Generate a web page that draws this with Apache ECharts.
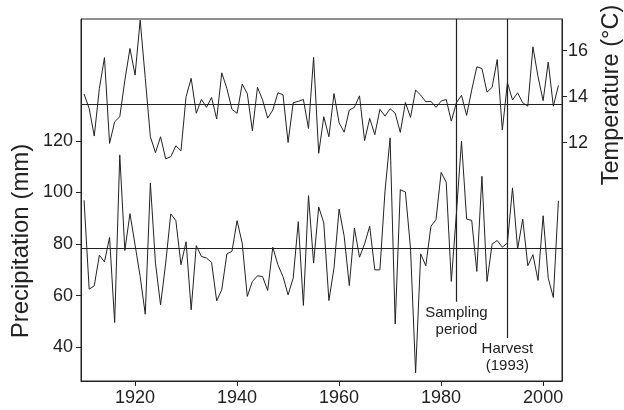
<!DOCTYPE html>
<html>
<head>
<meta charset="utf-8">
<script src="https://cdn.jsdelivr.net/npm/echarts@6/dist/echarts.min.js"></script>
<style>
  html, body { margin: 0; padding: 0; background: #fff; }
  #chart { width: 624px; height: 410px; }
</style>
</head>
<body>
<div id="chart"></div>
<script>
// Annual series, 1910–2003
const years = [
  1910, 1911, 1912, 1913, 1914, 1915, 1916, 1917, 1918, 1919,
  1920, 1921, 1922, 1923, 1924, 1925, 1926, 1927, 1928, 1929,
  1930, 1931, 1932, 1933, 1934, 1935, 1936, 1937, 1938, 1939,
  1940, 1941, 1942, 1943, 1944, 1945, 1946, 1947, 1948, 1949,
  1950, 1951, 1952, 1953, 1954, 1955, 1956, 1957, 1958, 1959,
  1960, 1961, 1962, 1963, 1964, 1965, 1966, 1967, 1968, 1969,
  1970, 1971, 1972, 1973, 1974, 1975, 1976, 1977, 1978, 1979,
  1980, 1981, 1982, 1983, 1984, 1985, 1986, 1987, 1988, 1989,
  1990, 1991, 1992, 1993, 1994, 1995, 1996, 1997, 1998, 1999,
  2000, 2001, 2002, 2003
];

// Mean temperature (°C)
const temperature = [
  14.12, 13.49, 12.29, 14.36, 15.70, 11.97, 12.91, 13.13, 14.72, 16.10,
  14.94, 17.33, 14.80, 12.26, 11.57, 12.26, 11.30, 11.39, 11.87, 11.65,
  14.00, 14.80, 13.28, 13.88, 13.54, 13.97, 13.03, 15.04, 14.36, 13.45,
  13.28, 14.55, 14.14, 12.52, 14.41, 13.86, 13.07, 13.42, 14.17, 14.09,
  12.01, 13.74, 13.80, 13.88, 12.62, 15.71, 11.54, 13.13, 12.26, 14.14,
  12.87, 12.46, 13.42, 13.54, 14.04, 12.09, 13.06, 12.35, 13.45, 13.16,
  13.48, 13.28, 12.45, 13.75, 13.10, 14.29, 14.07, 13.78, 13.80, 13.54,
  13.81, 13.88, 12.94, 13.74, 14.06, 13.19, 14.29, 15.30, 15.23, 14.20,
  14.41, 15.62, 12.55, 14.61, 13.86, 14.17, 13.74, 13.59, 16.17, 14.87,
  13.83, 15.51, 13.59, 14.49
];

// Precipitation (mm)
const precipitation = [
  97.0, 62.5, 63.8, 75.7, 73.1, 82.6, 49.6, 114.6, 77.5, 91.8,
  79.7, 67.4, 52.8, 103.7, 72.6, 56.4, 72.6, 91.7, 89.1, 72.0,
  80.9, 54.5, 79.4, 75.2, 74.6, 72.9, 58.0, 62.3, 76.2, 77.2,
  89.1, 80.4, 59.7, 65.5, 67.7, 67.4, 62.0, 78.8, 72.0, 67.4,
  60.3, 66.8, 88.7, 56.2, 98.8, 72.6, 94.4, 88.2, 58.1, 70.7,
  93.6, 83.0, 63.9, 86.2, 74.9, 80.1, 86.9, 70.0, 70.0, 100.5,
  121.2, 49.0, 101.1, 100.2, 78.4, 30.1, 76.2, 71.6, 86.9, 89.5,
  107.8, 104.0, 65.5, 92.0, 119.9, 89.7, 89.2, 69.4, 106.3, 65.5,
  80.0, 81.4, 78.8, 80.4, 101.8, 78.1, 89.7, 71.6, 75.9, 65.9,
  91.0, 66.8, 59.3, 96.8
];

// Long-term means drawn as reference lines
const temperatureMean = 13.67;
const precipitationMean = 78.3;

// Tick labels
const yearTicks = [1920, 1940, 1960, 1980, 2000];
const precipitationTicks = [40, 60, 80, 100, 120];
const temperatureTicks = [12, 14, 16];

// Marked years
const samplingYear = 1983;
const harvestYear = 1993;

const INK = '#222';
const FONT = '"Liberation Sans", Arial, Helvetica, sans-serif';

// Axis ranges (two panels share one frame)
const X_MIN = 1909.4, X_MAX = 2003.7;
const P_MIN = 26.9, P_MAX = 167.3;
const T_MIN = 1.64, T_MAX = 17.38;
// Lower ends of the event lines, in mm on the left axis
const SAMPLING_LINE_END = 57.6;
const HARVEST_LINE_END = 43.6;

const chart = echarts.init(document.getElementById('chart'), null, { renderer: 'canvas' });

const tickStyle = { show: true, inside: false, length: 5, lineStyle: { color: INK, width: 1 } };
const labelStyle = { color: INK, fontSize: 18, fontFamily: FONT };
const plain = v => String(Math.round(v));

const option = {
  animation: false,
  backgroundColor: '#fff',
  grid: {
    left: 81, right: 62, top: 19, bottom: 29,
    show: true, borderColor: INK, borderWidth: 1, backgroundColor: 'transparent'
  },
  xAxis: {
    type: 'value', min: X_MIN, max: X_MAX,
    axisLine: { show: true, lineStyle: { color: INK, width: 1 } },
    axisTick: Object.assign({ customValues: yearTicks }, tickStyle),
    axisLabel: Object.assign({ customValues: yearTicks, margin: 8, formatter: plain }, labelStyle),
    splitLine: { show: false }
  },
  yAxis: [
    {
      type: 'value', position: 'left', min: P_MIN, max: P_MAX,
      axisLine: { show: true, lineStyle: { color: INK, width: 1 } },
      axisTick: Object.assign({ customValues: precipitationTicks }, tickStyle),
      axisLabel: Object.assign({ customValues: precipitationTicks, margin: 8, formatter: plain }, labelStyle),
      splitLine: { show: false }
    },
    {
      type: 'value', position: 'right', min: T_MIN, max: T_MAX,
      axisLine: { show: true, lineStyle: { color: INK, width: 1 } },
      axisTick: Object.assign({ customValues: temperatureTicks }, tickStyle),
      axisLabel: Object.assign({ customValues: temperatureTicks, margin: 6, formatter: plain }, labelStyle),
      splitLine: { show: false }
    }
  ],
  series: [
    {
      name: 'Precipitation',
      type: 'line', xAxisIndex: 0, yAxisIndex: 0,
      data: years.map((y, i) => [y, precipitation[i]]),
      symbol: 'none',
      lineStyle: { color: INK, width: 1 },
      markLine: {
        silent: true, symbol: ['none', 'none'],
        label: { show: false },
        lineStyle: { color: INK, width: 1.2, type: 'solid' },
        data: [
          { yAxis: precipitationMean },
          [{ coord: [samplingYear, P_MAX] }, { coord: [samplingYear, SAMPLING_LINE_END] }],
          [{ coord: [harvestYear, P_MAX] }, { coord: [harvestYear, HARVEST_LINE_END] }]
        ]
      }
    },
    {
      name: 'Temperature',
      type: 'line', xAxisIndex: 0, yAxisIndex: 1,
      data: years.map((y, i) => [y, temperature[i]]),
      symbol: 'none',
      lineStyle: { color: INK, width: 1 },
      markLine: {
        silent: true, symbol: ['none', 'none'],
        label: { show: false },
        lineStyle: { color: INK, width: 1.2, type: 'solid' },
        data: [{ yAxis: temperatureMean }]
      }
    }
  ]
};

chart.setOption(option);

// Annotation texts under the event lines, plus rotated axis titles
const toPx = (x, y) => chart.convertToPixel({ xAxisIndex: 0, yAxisIndex: 0 }, [x, y]);
const pSampling = toPx(samplingYear, SAMPLING_LINE_END);
const pHarvest = toPx(harvestYear, HARVEST_LINE_END);

const noteStyle = (text, x, y) => ({
  type: 'text', x: x, y: y, silent: true,
  style: {
    text: text, fill: INK, font: '15px ' + FONT,
    align: 'center', verticalAlign: 'top', lineHeight: 17
  }
});

chart.setOption({
  graphic: [
    noteStyle('Sampling\nperiod', pSampling[0], pSampling[1] + 3),
    noteStyle('Harvest\n(1993)', pHarvest[0], pHarvest[1] + 2),
    {
      type: 'text', x: 21, y: 241, rotation: Math.PI / 2, silent: true,
      style: { text: 'Precipitation (mm)', fill: INK, font: '24px ' + FONT, align: 'center', verticalAlign: 'middle' }
    },
    {
      type: 'text', x: 612, y: 95, rotation: Math.PI / 2, silent: true,
      style: { text: 'Temperature (°C)', fill: INK, font: '23.5px ' + FONT, align: 'center', verticalAlign: 'middle' }
    }
  ]
});
</script>
</body>
</html>
